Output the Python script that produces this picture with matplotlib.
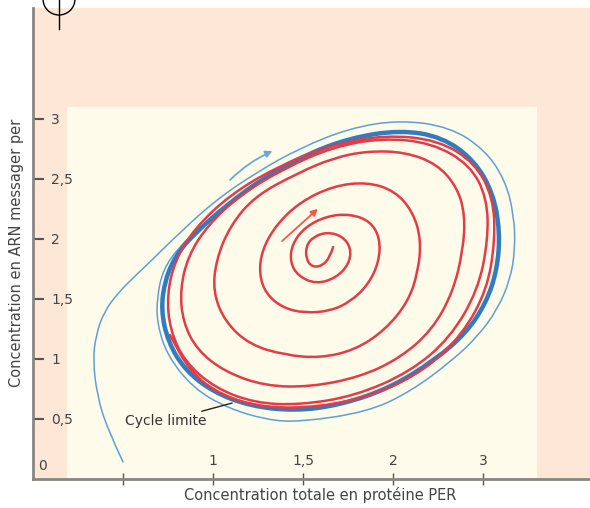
import matplotlib
matplotlib.use("Agg")
import matplotlib.pyplot as plt
from matplotlib.patches import Rectangle, Circle, PathPatch
from matplotlib.path import Path
from matplotlib.lines import Line2D

# red trajectory, spiralling out from the centre
red_x = [1.667, 1.650, 1.606, 1.550, 1.517, 1.517, 1.556, 1.633, 1.717, 1.767,
         1.756, 1.683, 1.572, 1.472, 1.428, 1.439, 1.511, 1.633, 1.761, 1.872,
         1.928, 1.922, 1.861, 1.761, 1.650, 1.511, 1.389, 1.294, 1.256, 1.272,
         1.350, 1.483, 1.667, 1.856, 2.011, 2.111, 2.156, 2.139, 2.083, 1.956,
         1.789, 1.594, 1.400, 1.206, 1.067, 1.000, 1.017, 1.094, 1.233, 1.472,
         1.667, 1.856, 2.067, 2.244, 2.356, 2.400, 2.389, 2.333, 2.217, 2.039,
         1.817, 1.539, 1.289, 1.067, 0.911, 0.833, 0.817, 0.861, 0.972, 1.150,
         1.400, 1.667, 1.944, 2.217, 2.428, 2.522, 2.528, 2.472, 2.317, 2.094,
         1.789, 1.483, 1.233, 1.011, 0.844, 0.761, 0.744, 0.789, 0.900, 1.094,
         1.344, 1.650, 1.956, 2.250, 2.456, 2.556, 2.567, 2.522, 2.383, 2.178,
         1.900, 1.594, 1.289, 1.050, 0.872, 0.761]
red_y = [1.933, 1.850, 1.775, 1.767, 1.833, 1.942, 2.017, 2.058, 2.025, 1.925,
         1.792, 1.675, 1.625, 1.692, 1.808, 1.958, 2.100, 2.192, 2.208, 2.150,
         2.008, 1.808, 1.617, 1.475, 1.400, 1.383, 1.425, 1.542, 1.708, 1.908,
         2.117, 2.308, 2.442, 2.475, 2.400, 2.225, 1.992, 1.725, 1.475, 1.242,
         1.075, 1.008, 1.033, 1.117, 1.308, 1.558, 1.825, 2.108, 2.358, 2.550,
         2.675, 2.733, 2.725, 2.625, 2.433, 2.200, 1.908, 1.558, 1.242, 1.008,
         0.850, 0.767, 0.775, 0.892, 1.075, 1.308, 1.575, 1.858, 2.117, 2.367,
         2.592, 2.767, 2.842, 2.800, 2.617, 2.342, 1.992, 1.575, 1.175, 0.892,
         0.692, 0.617, 0.633, 0.758, 0.975, 1.242, 1.533, 1.825, 2.092, 2.367,
         2.592, 2.783, 2.867, 2.825, 2.633, 2.342, 1.992, 1.575, 1.200, 0.908,
         0.700, 0.600, 0.592, 0.692, 0.892, 1.200]

# limit cycle (closed loop)
cycle_x = [0.711, 0.733, 0.794, 0.900, 1.083, 1.289, 1.511, 1.761, 2.039, 2.272,
           2.450, 2.556, 2.594, 2.578, 2.517, 2.406, 2.233, 1.983, 1.706, 1.456,
           1.206, 1.000, 0.844, 0.750]
cycle_y = [1.408, 1.658, 1.867, 2.050, 2.292, 2.517, 2.700, 2.842, 2.908, 2.850,
           2.658, 2.383, 2.058, 1.742, 1.467, 1.217, 0.992, 0.758, 0.617, 0.567,
           0.608, 0.725, 0.908, 1.142]

# blue trajectory coming in from outside
blue_x = [0.500, 0.411, 0.356, 0.333, 0.350, 0.394, 0.472, 0.567, 0.661, 0.761,
          1.000, 1.244, 1.483, 1.761, 2.039, 2.317, 2.511, 2.622, 2.672, 2.678,
          2.650, 2.578, 2.472, 2.333, 2.094, 1.856, 1.483, 1.300, 1.078, 0.889,
          0.744, 0.689, 0.689, 0.722, 0.806, 0.956, 1.178, 1.428, 1.706]
blue_y = [0.142, 0.425, 0.700, 0.992, 1.200, 1.392, 1.550, 1.692, 1.825, 1.975,
          2.308, 2.558, 2.758, 2.925, 2.992, 2.933, 2.742, 2.492, 2.200, 1.908,
          1.658, 1.408, 1.192, 0.992, 0.725, 0.558, 0.475, 0.492, 0.592, 0.758,
          1.033, 1.300, 1.517, 1.742, 1.925, 2.142, 2.408, 2.625, 2.800]

# direction arrows (tail, head)
blue_arrow = [(1.083, 2.475), (1.344, 2.742)]
red_arrow = [(1.372, 1.967), (1.594, 2.267)]

xticks = [0.5, 1.0, 1.5, 2.0, 2.5]
xtick_labels = ["", "1", "1,5", "2", "3"]
yticks = [0.5, 1.0, 1.5, 2.0, 2.5, 3.0]
ytick_labels = ["0,5", "1", "1,5", "2", "2,5", "3"]


def smooth_path(xs, ys, closed=False):
    # quadratic bezier through the read points (points used as control points)
    pts = list(zip(xs, ys))
    n = len(pts)
    mid = lambda a, b: ((a[0] + b[0]) / 2, (a[1] + b[1]) / 2)
    if closed:
        verts = [mid(pts[0], pts[1])]
        codes = [Path.MOVETO]
        for i in range(1, n + 1):
            verts += [pts[i % n], mid(pts[i % n], pts[(i + 1) % n])]
            codes += [Path.CURVE3, Path.CURVE3]
    else:
        verts = [pts[0]]
        codes = [Path.MOVETO]
        for i in range(1, n - 1):
            verts += [pts[i], mid(pts[i], pts[i + 1])]
            codes += [Path.CURVE3, Path.CURVE3]
        verts.append(pts[-1])
        codes.append(Path.LINETO)
    return Path(verts, codes)


fig = plt.figure(figsize=(5.9, 5.08), dpi=100)
ax = fig.add_axes([33/590, 29/508, 557/590, 471/508])
ax.set_facecolor("#fde7d6")
ax.set_xlim(0, 3.094)
ax.set_ylim(0, 3.925)

# lighter inner panel
ax.add_patch(Rectangle((0.19, 0), 2.61, 3.1, facecolor="#fffbea",
                       edgecolor="none", zorder=0))

ax.add_patch(PathPatch(smooth_path(blue_x, blue_y), facecolor="none",
                       edgecolor="#5d9fd8", lw=1.1, capstyle="round", zorder=2))
ax.add_patch(PathPatch(smooth_path(cycle_x, cycle_y, closed=True), facecolor="none",
                       edgecolor="#2f7cc0", lw=3.2, zorder=2))
ax.add_patch(PathPatch(smooth_path(red_x, red_y), facecolor="none",
                       edgecolor="#e23c48", lw=1.8, capstyle="round", zorder=3))

ax.annotate("", xy=blue_arrow[1], xytext=blue_arrow[0],
            arrowprops=dict(arrowstyle="-|>", color="#6aa8dc", lw=1.3,
                            mutation_scale=10, connectionstyle="arc3,rad=-0.1"))
ax.annotate("", xy=red_arrow[1], xytext=red_arrow[0],
            arrowprops=dict(arrowstyle="-|>", color="#ea5a50", lw=1.3,
                            mutation_scale=10))

ax.annotate("Cycle limite", xy=(1.106, 0.633), xytext=(0.51, 0.483),
            fontsize=10, color="#333333", va="center", ha="left",
            arrowprops=dict(arrowstyle="-", color="#222222", lw=1.0,
                            shrinkA=0, shrinkB=0))

# spines and ticks
for s in ["top", "right"]:
    ax.spines[s].set_visible(False)
for s in ["left", "bottom"]:
    ax.spines[s].set_color("#8a8580")
    ax.spines[s].set_linewidth(2.0)

ax.set_xticks(xticks)
ax.set_xticklabels(xtick_labels)
ax.set_yticks(yticks)
ax.set_yticklabels(ytick_labels)
ax.tick_params(axis="x", direction="inout", length=8, width=1, color="#555555",
               pad=-12, labelsize=10, labelcolor="#444444")
ax.tick_params(axis="y", direction="in", length=8, width=1.5, color="#555555",
               pad=-13, labelsize=10, labelcolor="#444444")
for lbl in ax.get_xticklabels():
    lbl.set_va("bottom")
for lbl in ax.get_yticklabels():
    lbl.set_ha("left")
ax.annotate("0", xy=(0, 0), xytext=(4, 4), textcoords="offset points",
            fontsize=10, color="#444444", ha="left", va="bottom")

ax.set_xlabel("Concentration totale en protéine PER", fontsize=10.5, color="#444444")
ax.xaxis.set_label_coords(0.515, -0.018)
ax.set_ylabel("Concentration en ARN messager per", fontsize=10.5, color="#444444")
ax.yaxis.set_label_coords(-0.016, 0.48)

# crop mark at the top left
fig.add_artist(Circle((0.59, 5.09), 0.16, transform=fig.dpi_scale_trans,
                      facecolor="none", edgecolor="black", lw=1.0))
fig.add_artist(Line2D([0.59, 0.59], [5.08, 4.79], transform=fig.dpi_scale_trans,
                      color="black", lw=1.0))

fig.savefig("out.png", dpi=100, facecolor="white")
